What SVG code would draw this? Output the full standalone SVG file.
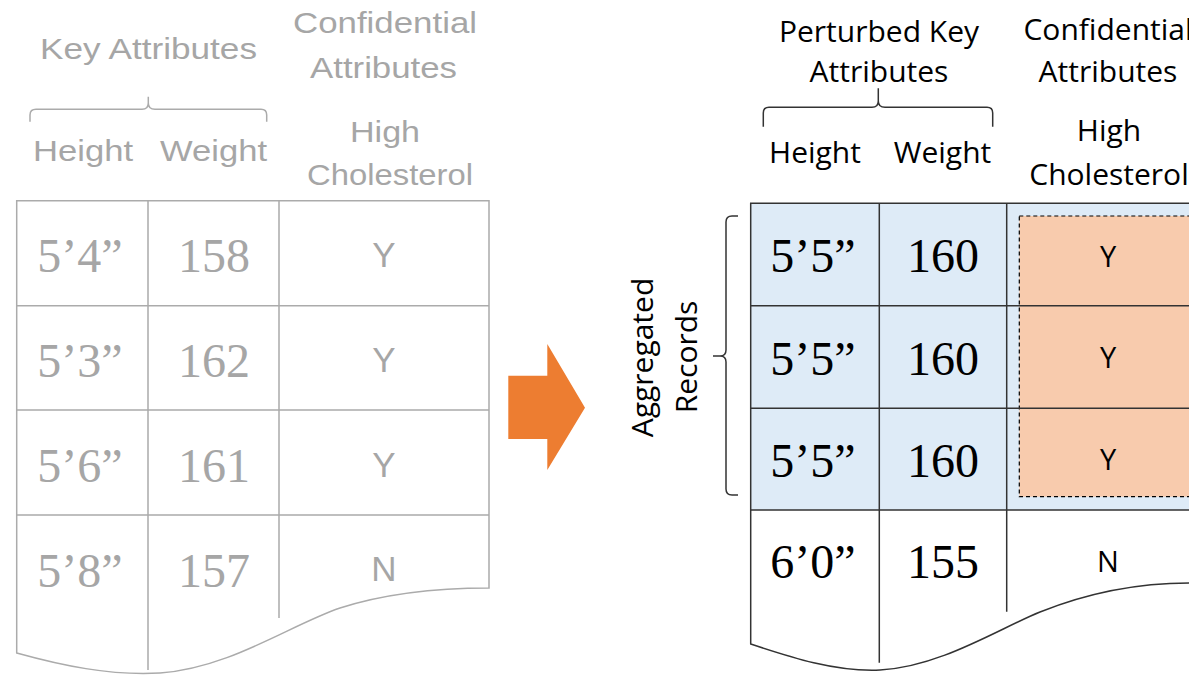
<svg xmlns="http://www.w3.org/2000/svg" width="1189" height="675" viewBox="0 0 1189 675">
<style>
.g{font-family:"Liberation Sans",Arial,sans-serif;fill:#a6a6a6;font-size:30px;text-anchor:middle}
.gs{font-family:"Liberation Serif","Times New Roman",serif;fill:#a6a6a6;font-size:48px;text-anchor:middle}
.gy{font-family:"Liberation Sans",Arial,sans-serif;fill:#a6a6a6;font-size:35px;text-anchor:middle}
.gl{fill:none;stroke:#ababab;stroke-width:1.5}
.b{font-family:"Open Sans","Noto Sans",sans-serif;fill:#000;font-size:30px;text-anchor:middle}
.bs{font-family:"Liberation Serif","Times New Roman",serif;fill:#000;font-size:48px;text-anchor:middle}
.by{font-family:"Open Sans","Noto Sans",sans-serif;fill:#000;font-size:29px;text-anchor:middle}
.bl{fill:none;stroke:#333;stroke-width:1.5}
</style>
<rect width="1189" height="675" fill="#fff"/>

<g id="left-header">
<text class="g" x="148.5" y="59" textLength="217" lengthAdjust="spacingAndGlyphs">Key Attributes</text>
<text class="g" x="385" y="33" textLength="184" lengthAdjust="spacingAndGlyphs">Confidential</text>
<text class="g" x="383.5" y="78" textLength="147" lengthAdjust="spacingAndGlyphs">Attributes</text>
<path class="gl" d="M30,121.7 V115 Q30,109.3 36,109.3 H142 Q148.3,109.3 148.3,103 V96.7 V103 Q148.3,109.3 155,109.3 H261 Q266.7,109.3 266.7,115 V121.7"/>
<text class="g" x="83" y="161" textLength="100" lengthAdjust="spacingAndGlyphs">Height</text>
<text class="g" x="213.5" y="161" textLength="107" lengthAdjust="spacingAndGlyphs">Weight</text>
<text class="g" x="385" y="142" textLength="70" lengthAdjust="spacingAndGlyphs">High</text>
<text class="g" x="390" y="185" textLength="166" lengthAdjust="spacingAndGlyphs">Cholesterol</text>
</g>

<g id="left-table">
<path class="gl" fill="#fff" d="M16.7,200.7 H489 V588 C440,588 390,592 340,608 C290,625 230,668 160,673 C110,676 60,665 16.7,653 Z"/>
<path class="gl" d="M16.7,305.7 H489 M16.7,410 H489 M16.7,515 H489 M148,200.7 V670 M279,200.7 V618"/>
<text class="gs" x="80" y="271.7">5’4”</text>
<text class="gs" x="214" y="271.7">158</text>
<text class="gy" x="384" y="267.3">Y</text>
<text class="gs" x="80" y="376.7">5’3”</text>
<text class="gs" x="214" y="376.7">162</text>
<text class="gy" x="384" y="372">Y</text>
<text class="gs" x="80" y="481.7">5’6”</text>
<text class="gs" x="214" y="481.7">161</text>
<text class="gy" x="384" y="476.7">Y</text>
<text class="gs" x="80" y="586.7">5’8”</text>
<text class="gs" x="214" y="586.7">157</text>
<text class="gy" x="384" y="580.7">N</text>
</g>

<g id="connectors">
<polygon fill="#ed7d31" points="508.3,375.7 547.3,375.7 547.3,344 585,407.7 547.3,470 547.3,439 508.3,439"/>
</g>

<g id="right-header">
<text class="b" x="879" y="41.7">Perturbed Key</text>
<text class="b" x="879" y="81.7">Attributes</text>
<text class="b" x="1108" y="40">Confidential</text>
<text class="b" x="1108" y="81.7">Attributes</text>
<path class="bl" stroke-width="1.3" d="M763.3,126.7 V113 Q763.3,107.3 769,107.3 H872 Q878.3,107.3 878.3,101 V88.3 V101 Q878.3,107.3 885,107.3 H987 Q992.7,107.3 992.7,113 V126.7"/>
<text class="b" x="815" y="163.3">Height</text>
<text class="b" x="942.5" y="163.3">Weight</text>
<text class="b" x="1109" y="141">High</text>
<text class="b" x="1109" y="185">Cholesterol</text>
</g>

<g id="aggregated-records">
<path class="bl" stroke-width="1.3" d="M738,216 H732 Q726,216 726,222 V350 Q726,356 720,356 H713 H720 Q726,356 726,362 V489 Q726,495 732,495 H738"/>
<text class="b" transform="translate(653,357.5) rotate(-90)" x="0" y="0">Aggregated</text>
<text class="b" transform="translate(697,357) rotate(-90)" x="0" y="0">Records</text>
</g>

<g id="right-table">
<path fill="#fff" d="M750.7,203.3 H1230 V583 H1189 C1140,583 1090,592 1040,612 C1000,628 940,667 880,670 C835,672 790,657 750.7,644 Z"/>
<rect x="750.7" y="203.3" width="480" height="306.7" fill="#deebf7"/>
<rect x="1019.3" y="216" width="250" height="280.7" fill="#f8cbad" stroke="#000" stroke-width="1.2" stroke-dasharray="4,3"/>
<path class="bl" d="M750.7,305.7 H1230 M750.7,408.3 H1230 M750.7,510 H1230 M879.3,203.3 V662.7 M1006.7,203.3 V611.7"/>
<path class="bl" d="M1230,203.3 H750.7 V644 C790,657 835,672 880,670 C940,667 1000,628 1040,612 C1090,592 1140,583 1189,583 H1230"/>
<text class="bs" x="813" y="271.7">5’5”</text>
<text class="bs" x="943" y="271.7">160</text>
<text class="by" x="1108" y="266.7">Y</text>
<text class="bs" x="813" y="375">5’5”</text>
<text class="bs" x="943" y="375">160</text>
<text class="by" x="1108" y="368.3">Y</text>
<text class="bs" x="813" y="476.7">5’5”</text>
<text class="bs" x="943" y="476.7">160</text>
<text class="by" x="1108" y="470">Y</text>
<text class="bs" x="813" y="578.3">6’0”</text>
<text class="bs" x="943" y="578.3">155</text>
<text class="by" x="1108" y="571.7">N</text>
</g>
</svg>
